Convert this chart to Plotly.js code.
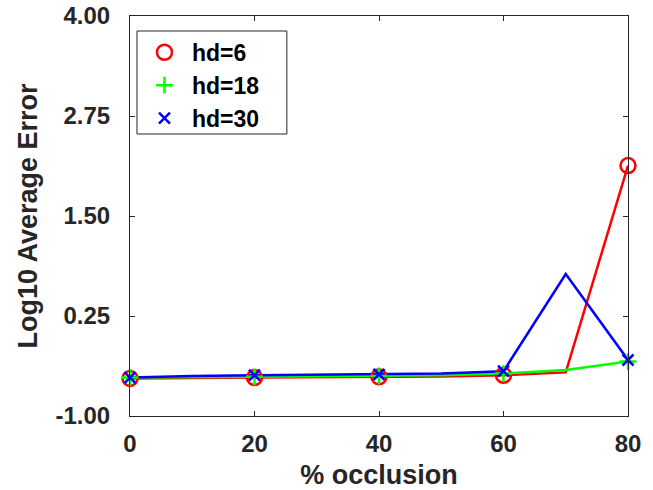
<!DOCTYPE html>
<html>
<head>
<meta charset="utf-8">
<script src="https://cdn.plot.ly/plotly-3.0.1.min.js"></script>
<style>html,body{margin:0;padding:0;background:#fff;}#chart{width:653px;height:490px;}</style>
</head>
<body>
<div id="chart"></div>
<script>
// occlusion levels (line vertices) and marker positions
const occlusion = [0, 10, 20, 30, 40, 50, 60, 70, 80];
const markerOcclusion = [0, 20, 40, 60, 80];
// log10 average error per series
const hd6  = [-0.53, -0.525, -0.52, -0.515, -0.51, -0.505, -0.49, -0.455, 2.13];
const hd18 = [-0.52, -0.515, -0.51, -0.505, -0.50, -0.49, -0.47, -0.425, -0.32];
const hd30 = [-0.52, -0.50, -0.49, -0.485, -0.48, -0.47, -0.44, 0.775, -0.30];
const seriesNames = ['hd=6', 'hd=18', 'hd=30'];
const yTicks = [-1.00, 0.25, 1.50, 2.75, 4.00];
const xTicks = [0, 20, 40, 60, 80];

const colors = ['#ff0000', '#00ff00', '#0000ff'];
const symbols = ['circle-open', 'cross-thin-open', 'x-thin-open'];
const sizes = [15, 12, 11];
const all = [hd6, hd18, hd30];

function pick(arr) {
  return markerOcclusion.map(x => arr[occlusion.indexOf(x)]);
}

const traces = [];
all.forEach((ys, i) => {
  traces.push({
    x: occlusion, y: ys, mode: 'lines', type: 'scatter',
    line: {color: colors[i], width: 2.5},
    showlegend: false, hoverinfo: 'skip', cliponaxis: false
  });
});
all.forEach((ys, i) => {
  traces.push({
    x: markerOcclusion, y: pick(ys), mode: 'markers', type: 'scatter',
    name: seriesNames[i], cliponaxis: false,
    marker: {color: colors[i], symbol: symbols[i], size: sizes[i], line: {color: colors[i], width: 2.5}}
  });
});

const FAM = 'Liberation Sans, Arial, sans-serif';
const tickFont = {family: FAM, size: 24, color: '#262626', weight: 'bold'};
const titleFont = {family: FAM, size: 27, color: '#262626', weight: 'bold'};
const layout = {
  width: 653, height: 490,
  margin: {l: 130, r: 25, t: 16, b: 74},
  paper_bgcolor: '#fff', plot_bgcolor: '#fff',
  showlegend: true,
  xaxis: {
    range: [0, 80], tickvals: xTicks, ticktext: xTicks.map(String),
    ticks: 'inside', ticklen: 5, tickcolor: '#262626', tickwidth: 1,
    showline: true, linecolor: '#262626', linewidth: 1, mirror: 'ticks',
    showgrid: false, zeroline: false,
    tickfont: tickFont, ticklabelstandoff: 6,
    title: {text: '% occlusion', font: titleFont, standoff: 10}
  },
  yaxis: {
    range: [-1, 4], tickvals: yTicks, ticktext: yTicks.map(v => v.toFixed(2)),
    ticks: 'inside', ticklen: 5, tickcolor: '#262626', tickwidth: 1,
    showline: true, linecolor: '#262626', linewidth: 1, mirror: 'ticks',
    showgrid: false, zeroline: false,
    tickfont: tickFont, ticklabelstandoff: 14,
    title: {text: 'Log10 Average Error', font: titleFont, standoff: 10}
  },
  shapes: [{
    type: 'rect', xref: 'paper', yref: 'paper', layer: 'above',
    x0: 0.014, x1: 0.315, y0: 0.705, y1: 0.9625,
    line: {color: '#262626', width: 1}, fillcolor: '#ffffff'
  }],
  legend: {
    x: 0.014, y: 0.963, xanchor: 'left', yanchor: 'top',
    bgcolor: 'rgba(0,0,0,0)', borderwidth: 0,
    font: {family: FAM, size: 23, color: '#000', weight: 'bold'},
    itemwidth: 45
  }
};

Plotly.newPlot('chart', traces, layout, {displayModeBar: false, staticPlot: true});
</script>
</body>
</html>
